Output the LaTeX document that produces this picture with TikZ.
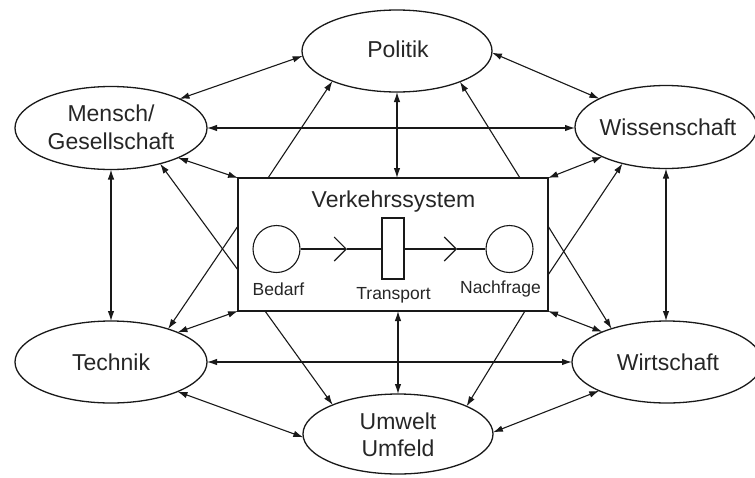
\documentclass[tikz,border=0pt]{standalone}
\usepackage{fontspec}
\setmainfont{Liberation Sans}
\usetikzlibrary{shapes.geometric,arrows.meta}
\begin{document}
\begin{tikzpicture}[x=1pt,y=-1pt,
  ell/.style={ellipse, draw=black!90, line width=1.3pt, inner sep=0pt, outer sep=0pt},
  txt/.style={text=black!85, font=\fontsize{23}{28}\selectfont, align=center, inner sep=0pt},
  small/.style={text=black!85, font=\fontsize{17.5}{20}\selectfont, inner sep=0pt},
  con/.style={draw=black!90, line width=1.1pt},
  dbl/.style={con, {Latex[length=10pt,width=6.5pt]}-{Latex[length=10pt,width=6.5pt]}},
  one/.style={con, -{Latex[length=10pt,width=6.5pt]}},
  barb/.style={con, -{Straight Barb[length=12pt,width=24pt,line width=1.1pt]}},
]
\useasboundingbox (0,0) rectangle (755,477);

% ellipses
\node[ell, minimum width=190pt, minimum height=82pt] (pol) at (397,51) {};
\node[ell, minimum width=192pt, minimum height=83pt] (men) at (111,128) {};
\node[ell, minimum width=182pt, minimum height=83pt] (wis) at (666,127) {};
\node[ell, minimum width=192pt, minimum height=82pt] (tec) at (111,362) {};
\node[ell, minimum width=190pt, minimum height=82pt] (wir) at (667,362) {};
\node[ell, minimum width=190pt, minimum height=80pt] (umw) at (398,434) {};
\node[draw=black!90, line width=1.4pt, minimum width=310pt, minimum height=133pt, inner sep=0pt, outer sep=0pt] (box) at (393,244.5) {};

% labels
\node[txt, anchor=base] (polt) at (398,57) {Politik};
\node[txt] (ment) at (111,127.6) {Mensch/\\Gesellschaft};
\node[txt, anchor=base] (wist) at (668,135) {Wissenschaft};
\node[txt, anchor=base] (tect) at (111,370) {Technik};
\node[txt, anchor=base] (wirt) at (668,370) {Wirtschaft};
\node[txt, font=\fontsize{23}{27}\selectfont] (umwt) at (398,435) {Umwelt\\Umfeld};
\node[txt, anchor=base] (vst) at (393.5,207) {Verkehrssystem};

% inner system
\node[circle, draw=black!90, line width=1.1pt, minimum size=47pt, inner sep=0pt] (bed) at (276.5,249) {};
\node[circle, draw=black!90, line width=1.1pt, minimum size=47pt, inner sep=0pt] (nach) at (509.5,249) {};
\node[draw=black!90, line width=1.1pt, minimum width=22pt, minimum height=61pt, inner sep=0pt] (tra) at (393,248.5) {};
\coordinate (m1) at (347,249);
\coordinate (m2) at (457,249);
\draw[barb] (bed.east) -- (m1);
\draw[con] (m1) -- (m1 -| tra.west);
\draw[barb] (m2 -| tra.east) -- (m2);
\draw[con] (m2) -- (nach.west);
\node[small, anchor=base] (bedt) at (278.5,295) {Bedarf};
\node[small, anchor=base] (trat) at (393.5,299) {Transport};
\node[small, anchor=base] (nacht) at (500.5,293) {Nachfrage};

% double-headed connectors
\draw[dbl] (men.23.5) -- (pol.183);
\draw[dbl] (pol.-1) -- (wis.157);
\draw[dbl] (men.east) -- (men.east -| wis.west);
\draw[dbl] (tec.east) -- (tec.east -| wir.west);
\draw[dbl] (men.south) -- (tec.north);
\draw[dbl] (wis.south) -- (wis.south |- wir.north);
\draw[dbl] (pol.south) -- (pol.south |- box.north);
\draw[dbl] (umw.north |- box.south) -- (umw.north);
\draw[dbl] (men.-24) -- (box.north west);
\draw[dbl] (wis.205.6) -- (box.north east);
\draw[dbl] (tec.24) -- (box.south west);
\draw[dbl] (wir.155.4) -- (box.south east);
\draw[dbl] (tec.-24) -- (umw.182);
\draw[dbl] (wir.203.2) -- (umw.1);

% single-headed connectors from the system box
\coordinate (bt1) at (268,178);
\coordinate (bt2) at (520,178);
\coordinate (bl1) at (238,270);
\coordinate (bl2) at (238,226);
\coordinate (br1) at (548,226);
\coordinate (br2) at (548,275);
\coordinate (bb1) at (265,311);
\coordinate (bb2) at (525,311);
\draw[one] (bt1) -- (pol.205.5);
\draw[one] (bt2) -- (pol.334);
\draw[one] (bl1) -- (men.324);
\draw[one] (bl2) -- (tec.30.7);
\draw[one] (br1) -- (wir.149.3);
\draw[one] (br2) -- (wis.220.5);
\draw[one] (bb1) -- (umw.156.9);
\draw[one] (bb2) -- (umw.22.5);
\end{tikzpicture}
\end{document}
